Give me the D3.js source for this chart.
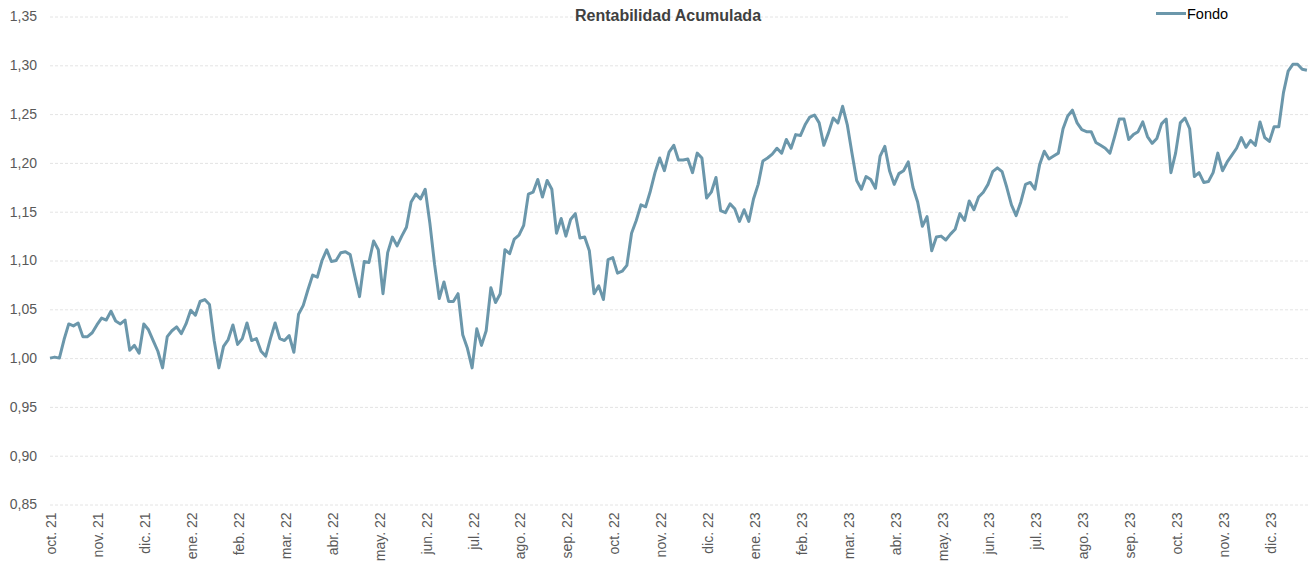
<!DOCTYPE html>
<html>
<head>
<meta charset="utf-8">
<script src="https://cdn.jsdelivr.net/npm/d3@7"></script>
<style>
  body { margin: 0; background: #fff; }
  svg { display: block; font-family: "Liberation Sans", Arial, sans-serif; }
</style>
</head>
<body>
<svg id="chart" width="1310" height="567"></svg>
<script>
// month labels shown on the x axis, one every 10 points
let monthLabels = ["oct. 21","nov. 21","dic. 21","ene. 22","feb. 22","mar. 22","abr. 22","may. 22","jun. 22",
  "jul. 22","ago. 22","sep. 22","oct. 22","nov. 22","dic. 22","ene. 23","feb. 23","mar. 23","abr. 23",
  "may. 23","jun. 23","jul. 23","ago. 23","sep. 23","oct. 23","nov. 23","dic. 23"];
let pointsPerLabel = 10;

let yTicks = [0.85, 0.90, 0.95, 1.00, 1.05, 1.10, 1.15, 1.20, 1.25, 1.30, 1.35];

// Fondo - rentabilidad acumulada (base 1)
let fondo = [
  1.000,1.001,1.000,1.019,1.035,1.033,1.036,1.022,1.022,1.026,
  1.034,1.041,1.039,1.048,1.038,1.035,1.039,1.008,1.013,1.005,
  1.035,1.029,1.018,1.007,0.990,1.022,1.028,1.032,1.025,1.035,
  1.049,1.044,1.058,1.060,1.055,1.018,0.990,1.012,1.019,1.034,
  1.014,1.020,1.036,1.018,1.020,1.007,1.002,1.020,1.036,1.020,
  1.018,1.023,1.006,1.045,1.054,1.070,1.085,1.083,1.100,1.111,
  1.099,1.100,1.108,1.109,1.106,1.084,1.063,1.099,1.098,1.120,
  1.111,1.066,1.108,1.124,1.115,1.125,1.134,1.160,1.168,1.163,
  1.173,1.138,1.096,1.061,1.078,1.058,1.058,1.066,1.024,1.010,
  0.990,1.030,1.013,1.028,1.072,1.057,1.066,1.111,1.107,1.122,
  1.126,1.136,1.168,1.170,1.183,1.165,1.182,1.173,1.128,1.143,
  1.125,1.142,1.148,1.123,1.124,1.110,1.066,1.074,1.060,1.101,
  1.103,1.087,1.089,1.095,1.128,1.141,1.157,1.155,1.171,1.190,
  1.205,1.192,1.211,1.218,1.203,1.203,1.204,1.190,1.210,1.205,
  1.164,1.170,1.185,1.151,1.149,1.158,1.153,1.140,1.152,1.140,
  1.163,1.178,1.202,1.205,1.209,1.215,1.210,1.224,1.215,1.229,
  1.228,1.239,1.247,1.249,1.241,1.218,1.231,1.246,1.241,1.258,
  1.239,1.210,1.182,1.173,1.186,1.183,1.174,1.207,1.217,1.192,
  1.178,1.189,1.192,1.201,1.175,1.160,1.135,1.145,1.110,1.124,
  1.125,1.121,1.127,1.132,1.148,1.141,1.161,1.152,1.165,1.170,
  1.178,1.191,1.195,1.191,1.175,1.157,1.146,1.160,1.178,1.180,
  1.173,1.198,1.212,1.204,1.207,1.210,1.235,1.248,1.254,1.241,
  1.234,1.232,1.232,1.221,1.218,1.215,1.210,1.227,1.245,1.245,
  1.224,1.229,1.232,1.242,1.227,1.220,1.225,1.240,1.245,1.190,
  1.210,1.241,1.246,1.235,1.186,1.190,1.180,1.181,1.190,1.210,
  1.192,1.201,1.208,1.215,1.226,1.216,1.223,1.218,1.242,1.226,
  1.222,1.237,1.237,1.272,1.294,1.301,1.301,1.296,1.295
];

let lineColor = "#6b97ab";
let textColor = "#595959";

let svg = d3.select("#chart");

let left = 50, step = 4.69;
let xScale = d3.scaleLinear()
  .domain([0, fondo.length - 1])
  .range([left, left + step * (fondo.length - 1)]);

let yScale = d3.scaleLinear()
  .domain([0.85, 1.35])
  .range([504.5, 16.5]);

let comma = d => d3.format(".2f")(d).replace(".", ",");

// gridlines
svg.append("g")
  .attr("transform", "translate(" + left + ",0)")
  .call(d3.axisLeft(yScale).tickValues(yTicks).tickSize(-(1310 - left)).tickFormat(""))
  .call(g => g.select(".domain").remove())
  .call(g => g.selectAll("line")
    .attr("stroke", "#e4e4e4")
    .attr("stroke-dasharray", "3,2"));

// y axis labels
svg.append("g")
  .attr("transform", "translate(" + left + ",0)")
  .call(d3.axisLeft(yScale).tickValues(yTicks).tickSize(0).tickPadding(13).tickFormat(comma))
  .call(g => g.select(".domain").remove())
  .call(g => g.selectAll("text")
    .attr("fill", textColor)
    .style("font-size", "14px")
    .style("font-family", "Liberation Sans, Arial, sans-serif"));

// x axis labels
svg.append("g")
  .attr("transform", "translate(1,504.5)")
  .call(d3.axisBottom(xScale)
    .tickValues(monthLabels.map((d, i) => i * pointsPerLabel))
    .tickSize(0)
    .tickFormat((d, i) => monthLabels[i]))
  .call(g => g.select(".domain").remove())
  .call(g => g.selectAll("text")
    .attr("fill", textColor)
    .style("font-size", "14px")
    .style("font-family", "Liberation Sans, Arial, sans-serif")
    .attr("text-anchor", "end")
    .attr("transform", "rotate(-90)")
    .attr("x", -8)
    .attr("y", 0)
    .attr("dy", "0.35em"));

// the line
let line = d3.line()
  .x((d, i) => xScale(i))
  .y(d => yScale(d));

svg.append("path")
  .datum(fondo)
  .attr("fill", "none")
  .attr("stroke", lineColor)
  .attr("stroke-width", 3)
  .attr("stroke-linejoin", "round")
  .attr("d", line);

// legend (white box hides the top gridline)
svg.append("rect")
  .attr("x", 1068).attr("y", 0)
  .attr("width", 242).attr("height", 30)
  .attr("fill", "#fff");
svg.append("line")
  .attr("x1", 1156).attr("x2", 1186)
  .attr("y1", 13.5).attr("y2", 13.5)
  .attr("stroke", lineColor)
  .attr("stroke-width", 3);
svg.append("text")
  .attr("x", 1187).attr("y", 19)
  .attr("fill", "#000")
  .style("font-size", "14.5px")
  .text("Fondo");

// title
svg.append("text")
  .attr("x", 668).attr("y", 21)
  .attr("text-anchor", "middle")
  .attr("fill", "#404040")
  .style("font-size", "16px")
  .style("font-weight", "bold")
  .text("Rentabilidad Acumulada");
</script>
</body>
</html>
